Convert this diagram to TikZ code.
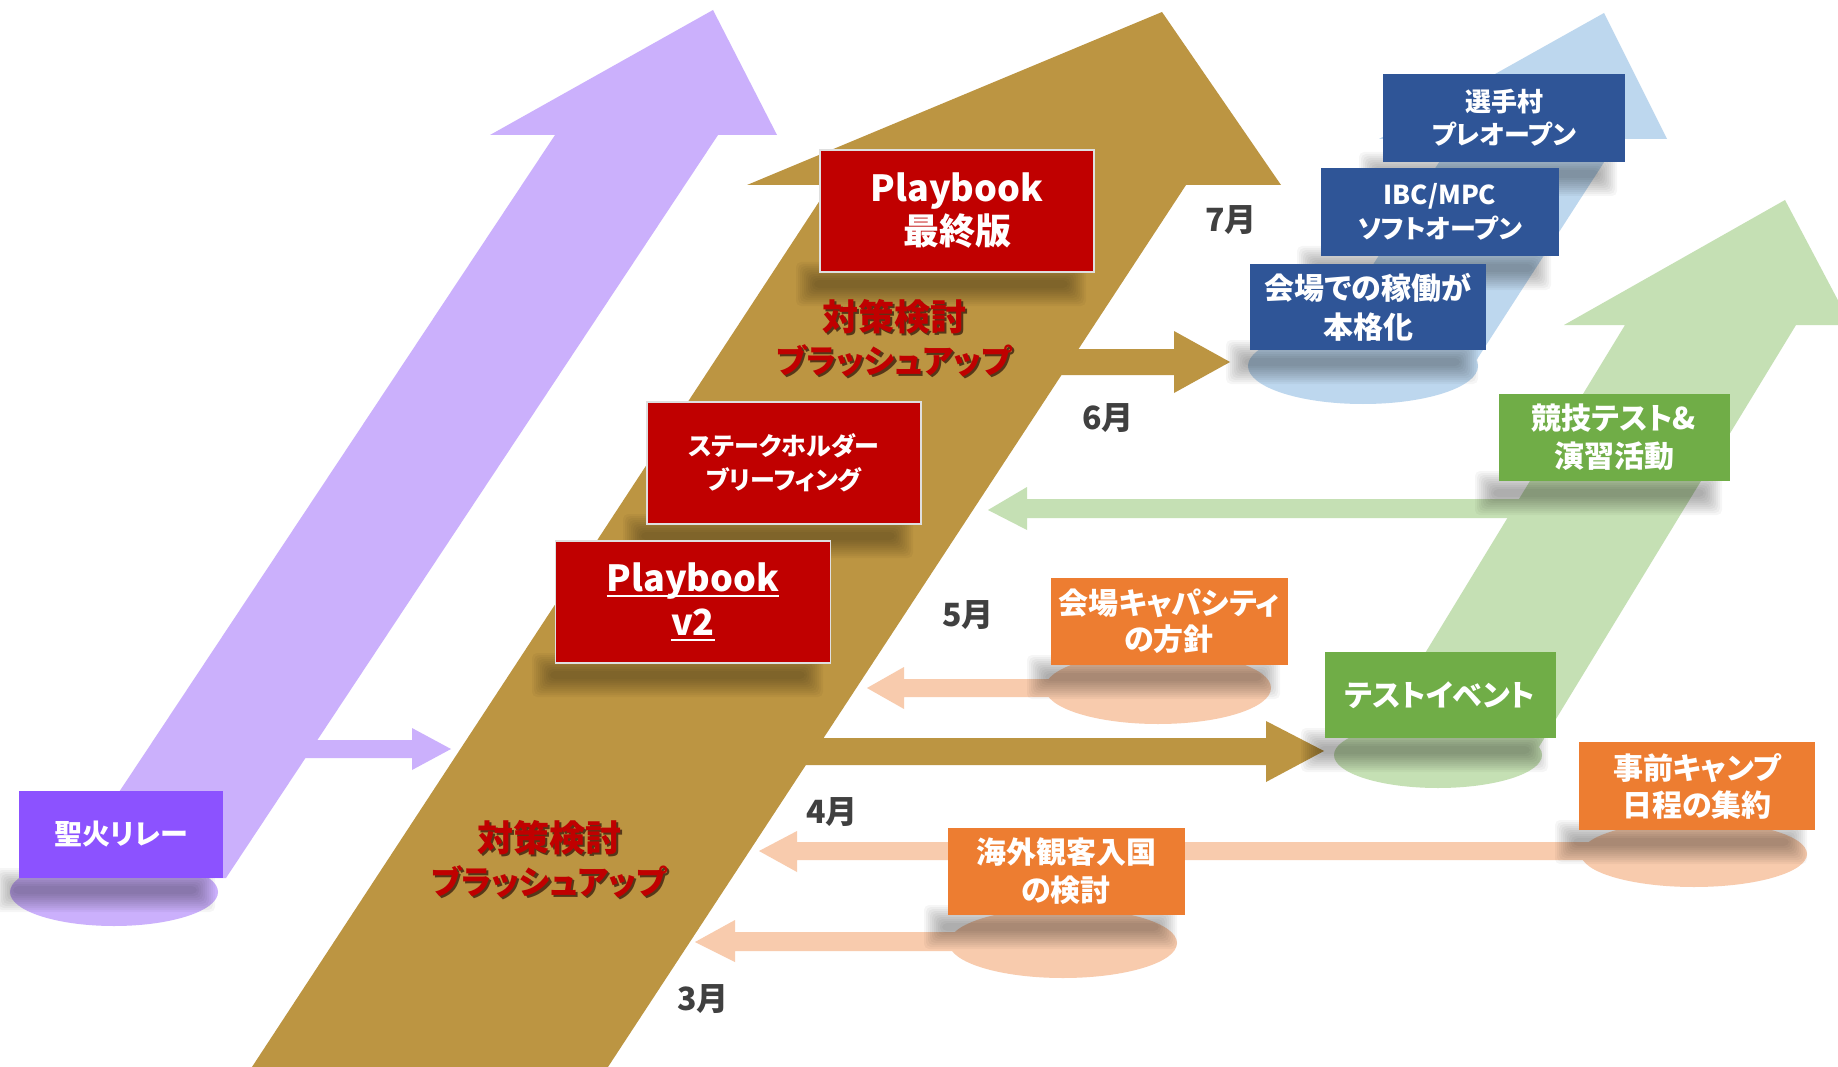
\documentclass[tikz,border=0pt]{standalone}
\usepackage{fontspec}
\setmainfont{Noto Sans CJK JP}[RawFeature=+palt]
\definecolor{purpleL}{RGB}{203,176,252}
\definecolor{purpleD}{RGB}{140,82,255}
\definecolor{gold}{RGB}{188,149,66}
\definecolor{redbox}{RGB}{192,0,0}
\definecolor{blueD}{RGB}{47,85,151}
\definecolor{blueL}{RGB}{189,215,238}
\definecolor{greenD}{RGB}{112,173,71}
\definecolor{greenL}{RGB}{197,224,180}
\definecolor{orangeD}{RGB}{237,125,49}
\definecolor{orangeL}{RGB}{248,203,173}
\definecolor{monthc}{RGB}{64,64,64}
\definecolor{txtshadow}{RGB}{85,55,25}
\newcommand{\fs}[2]{\fontsize{#1}{#2}\selectfont\bfseries}
\newcommand{\ulx}[1]{\setbox0=\hbox{#1}\leavevmode\rlap{\rule[-6pt]{\wd0}{2.5pt}}\box0}
\newcommand{\shx}[1]{\leavevmode\rlap{\kern2pt\raisebox{-2pt}{\textcolor{txtshadow}{#1}}}#1}
% soft band shadow below a box: left x, right x, bottom y
\newcommand{\bandsh}[3]{%
  \foreach \k in {0,...,9}{%
    \fill[black,opacity=0.037,rounded corners=5pt] ({#1-24+2*\k},{#3-10+2*\k}) rectangle ({#2-8-2*\k},{#3+34-2*\k});}}
\begin{document}
\begin{tikzpicture}[x=1pt,y=-1pt,
  boxbase/.style={inner sep=0pt,align=center,text=white},
  redb/.style={boxbase,fill=redbox,draw=gray!25,line width=1.5pt},
  blueb/.style={boxbase,fill=blueD},
  greenb/.style={boxbase,fill=greenD},
  orangeb/.style={boxbase,fill=orangeD},
  purpleb/.style={boxbase,fill=purpleD},
  monthlab/.style={text=monthc,font=\fs{32}{38}},
  redlab/.style={text=redbox,align=center,font=\fs{36}{43}},
]
\useasboundingbox (0,0) rectangle (1838,1067);
\clip (0,0) rectangle (1838,1067);
\fill[white] (0,0) rectangle (1838,1067);

% big arrows
\fill[purpleL] (713,10) -- (777,135) -- (718,135) -- (226,878) -- (62,878) -- (555,135) -- (490,135) -- cycle;
\fill[blueL] (1604,13) -- (1667,139) -- (1619,139) -- (1472,367) -- (1307,367) -- (1454,139) -- (1379,139) -- cycle;
\fill[greenL] (1785,200) -- (1851,325) -- (1796,325) -- (1531,760) -- (1360,760) -- (1625,325) -- (1564,325) -- cycle;
\fill[gold] (1162,12) -- (1281,185) -- (1186,185) -- (606,1070) -- (250,1070) -- (830,185) -- (747,185) -- cycle;
% horizontal block arrows
\fill[purpleL] (300,740) -- (412,740) -- (412,728) -- (451,749) -- (412,770) -- (412,758) -- (300,758) -- cycle;
\fill[gold] (1040,349) -- (1174,349) -- (1174,331) -- (1230,362) -- (1174,393) -- (1174,375) -- (1040,375) -- cycle;
\fill[gold] (790,738) -- (1266,738) -- (1266,721) -- (1324,751) -- (1266,782) -- (1266,765) -- (790,765) -- cycle;
\fill[greenL] (1530,499) -- (1027,499) -- (1027,487) -- (988,510) -- (1027,530) -- (1027,518) -- (1530,518) -- cycle;
\fill[orangeL] (1150,679) -- (904,679) -- (904,667) -- (867,688) -- (904,709) -- (904,697) -- (1150,697) -- cycle;
\fill[orangeL] (1690,842) -- (797,842) -- (797,831) -- (759,851) -- (797,872) -- (797,860) -- (1690,860) -- cycle;
\fill[orangeL] (1060,932) -- (735,932) -- (735,920) -- (695,942) -- (735,962) -- (735,951) -- (1060,951) -- cycle;
% ellipses
\fill[purpleL] (114,892) ellipse [x radius=104, y radius=34];
\fill[blueL] (1363,366) ellipse [x radius=115, y radius=38];
\fill[greenL] (1438,755) ellipse [x radius=104, y radius=33];
\fill[orangeL] (1158,688) ellipse [x radius=113, y radius=36];
\fill[orangeL] (1694,854) ellipse [x radius=113, y radius=33];
\fill[orangeL] (1063,943) ellipse [x radius=114, y radius=35];

% shadows below the boxes
\bandsh{820}{1094}{272}
\bandsh{647}{921}{524}
\bandsh{556}{831}{663}
\bandsh{19}{223}{878}
\bandsh{1383}{1625}{162}
\bandsh{1321}{1559}{256}
\bandsh{1250}{1486}{350}
\bandsh{1499}{1730}{481}
\bandsh{1325}{1556}{738}
\bandsh{1051}{1288}{665}
\bandsh{1579}{1815}{830}
\bandsh{948}{1185}{915}

% red boxes
\node[redb,minimum width=274pt,minimum height=122pt,font=\fs{36}{43}] (pbfinal) at (957,211) {Playbook\\最終版};
\node[redb,minimum width=274pt,minimum height=122pt,font=\fs{25}{34}] (stake) at (784,463) {ステークホルダー\\ブリーフィング};
\node[redb,minimum width=275pt,minimum height=122pt,font=\fs{36}{44}] (pbv2) at (693,602) {\ulx{Playbook}\\\ulx{v2}};

% red labels
\node[redlab] (upperlab) at (894,339) {\shx{対策検討}\\\fontsize{33}{43}\selectfont\shx{ブラッシュアップ}};
\node[redlab] (lowerlab) at (549,860) {\shx{対策検討}\\\fontsize{33}{43}\selectfont\shx{ブラッシュアップ}};

% months
\node[monthlab] (m7) at (1231,220) {7月};
\node[monthlab] (m6) at (1108,418) {6月};
\node[monthlab] (m5) at (968,615) {5月};
\node[monthlab] (m4) at (832,812) {4月};
\node[monthlab] (m3) at (703,999) {3月};

% purple box
\node[purpleb,minimum width=204pt,minimum height=87pt,font=\fs{28}{34}] (holy) at (121,834) {聖火リレー};

% blue boxes
\node[blueb,minimum width=242pt,minimum height=88pt,font=\fs{26}{33}] (village) at (1504,118) {選手村\\プレオープン};
\node[blueb,minimum width=238pt,minimum height=88pt,font=\fs{26}{34}] (ibc) at (1440,212) {IBC/MPC\\ソフトオープン};
\node[blueb,minimum width=236pt,minimum height=86pt,font=\fs{30}{39}] (venue) at (1368,307) {会場での稼働が\\本格化};

% green boxes
\node[greenb,minimum width=231pt,minimum height=87pt,font=\fs{30}{38}] (comp) at (1614,437) {競技テスト\&\\演習活動};
\node[greenb,minimum width=231pt,minimum height=86pt,font=\fs{30}{36}] (test) at (1440,695) {テストイベント};

% orange boxes
\node[orangeb,minimum width=237pt,minimum height=87pt,font=\fs{30}{36}] (cap) at (1169,621) {会場キャパシティ\\の方針};
\node[orangeb,minimum width=236pt,minimum height=88pt,font=\fs{30}{37}] (camp) at (1697,786) {事前キャンプ\\日程の集約};
\node[orangeb,minimum width=237pt,minimum height=87pt,font=\fs{30}{38}] (overseas) at (1066,871) {海外観客入国\\の検討};
\end{tikzpicture}
\end{document}
